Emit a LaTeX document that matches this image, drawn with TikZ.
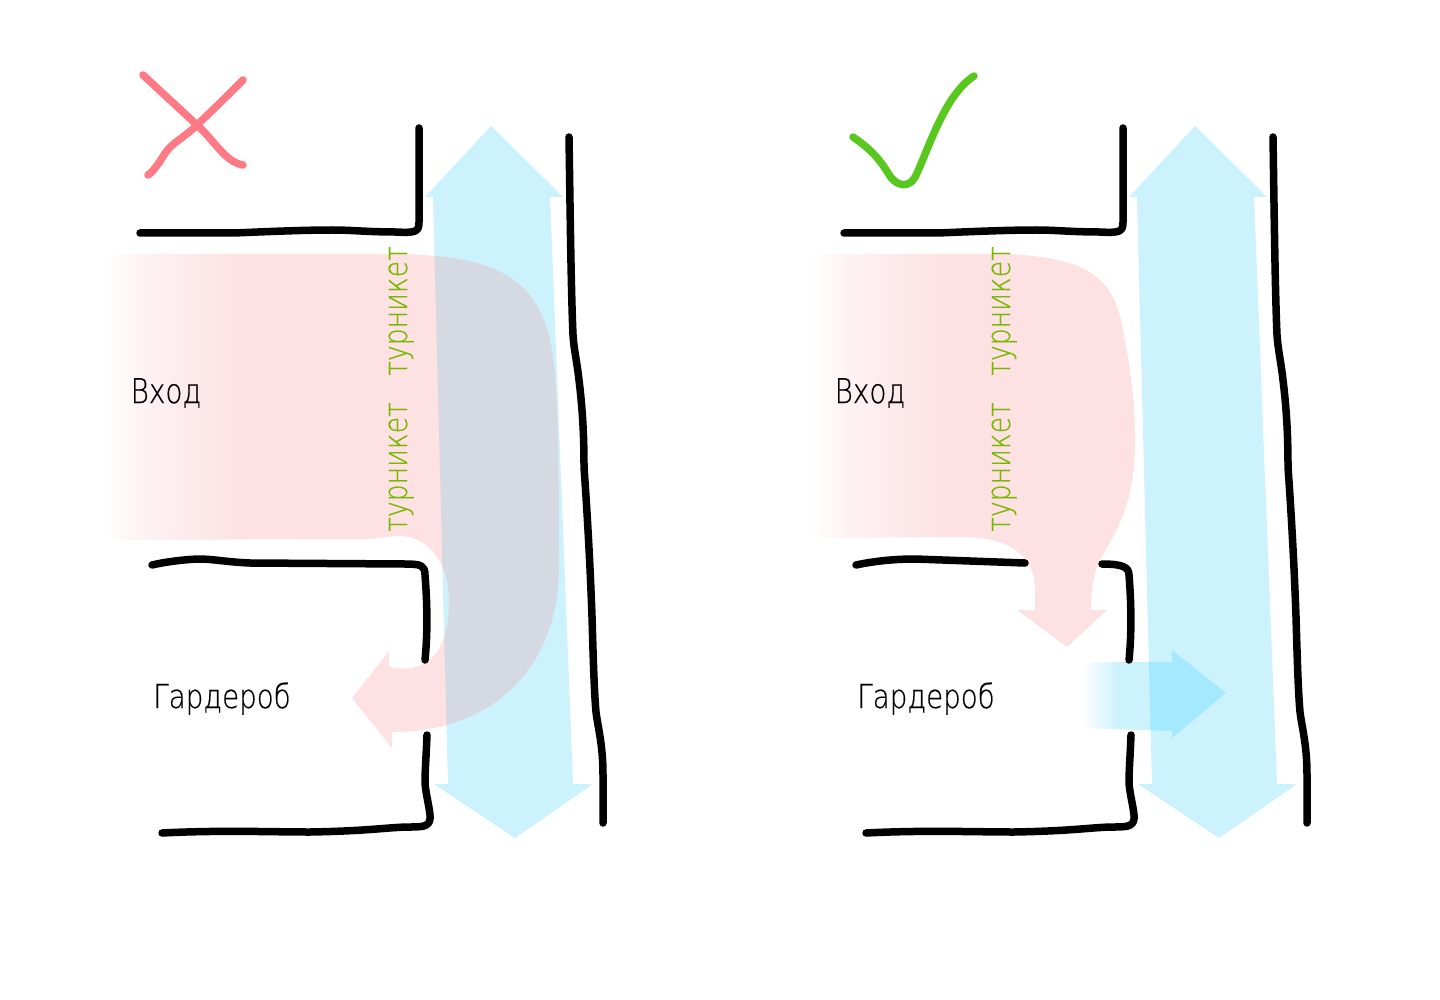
\documentclass[tikz,border=0pt]{standalone}
\usepackage{fontspec}
\usepackage{graphicx}
\setmainfont{DejaVu Sans ExtraLight}
\newfontfamily\roomfont[FakeBold=0.5]{DejaVu Sans ExtraLight}
\newfontfamily\turnfont[FakeBold=0.3]{DejaVu Sans ExtraLight}
\definecolor{pinkc}{RGB}{253,225,227}
\definecolor{pinkm}{RGB}{254,243,244}
\definecolor{bluec}{RGB}{204,242,254}
\definecolor{greyc}{RGB}{212,217,226}
\definecolor{deepblue}{RGB}{165,233,255}
\definecolor{crossc}{RGB}{255,122,133}
\definecolor{checkc}{RGB}{88,200,30}
\definecolor{labelg}{RGB}{120,185,0}
\tikzset{
  wall/.style={draw=black,line width=7.5pt,line cap=round,line join=round},
  mark stroke/.style={line width=7.5pt,line cap=round,line join=round},
  turn/.style={text=labelg,rotate=90,inner sep=0pt,anchor=base},
  room/.style={text=black,inner sep=0pt,anchor=base},
}
\newcommand{\turntext}{\fontsize{33}{33}\turnfont\scalebox{0.81}[1]{турникет}}
\def\bluearrow{(491,126) -- (563,197) -- (550,197) -- (573,784) -- (593,784) -- (515,838) -- (434,784) -- (448,784) -- (433,197) -- (425,197) -- cycle}
\def\pinkleft{(105,254) -- (400,254) .. controls (490,256) and (535,275) .. (550,340) .. controls (558,380) and (559,440) .. (559,567) .. controls (559,660) and (500,732) .. (392,732) -- (392,748) -- (352,698) -- (389,651) -- (389,667) .. controls (430,675) and (449,650) .. (449,600) .. controls (449,565) and (430,534) .. (395,536) .. controls (385,537) and (375,539) .. (360,539) -- (105,540) -- cycle}
\def\pinkright{(810,254) -- (1007,254) .. controls (1085,258) and (1112,275) .. (1122,325) .. controls (1130,365) and (1135,400) .. (1135,440) .. controls (1135,500) and (1120,525) .. (1100,560) .. controls (1093,575) and (1091,590) .. (1091,610) -- (1107,610) -- (1067,647) -- (1017,610) -- (1035,610) -- (1035,590) .. controls (1035,555) and (1010,537) .. (960,537) -- (810,538) -- cycle}
\def\smallarrow{(1083,662) -- (1172,662) -- (1172,650) -- (1226,693) -- (1172,738) -- (1172,731) -- (1083,728) -- cycle}
\begin{document}
\begin{tikzpicture}[x=1pt,y=-1pt]
\useasboundingbox (0,0) rectangle (1440,1000);
\fill[white] (0,0) rectangle (1440,1000);
% left panel
\fill[bluec] \bluearrow;
\begin{scope}
  \clip \pinkleft;
  \fill[pinkc] (240,250) rectangle (600,760);
  \shade[left color=white,right color=pinkm] (105,250) rectangle (140.5,545);
  \shade[left color=pinkm,right color=pinkc] (140,250) rectangle (240.5,545);
  \fill[greyc] \bluearrow;
\end{scope}
% right panel
\begin{scope}[xshift=704pt]
  \fill[bluec] \bluearrow;
\end{scope}
\begin{scope}
  \clip \pinkright;
  \fill[pinkc] (945,250) rectangle (1200,660);
  \shade[left color=white,right color=pinkm] (810,250) rectangle (845.5,545);
  \shade[left color=pinkm,right color=pinkc] (845,250) rectangle (945.5,545);
\end{scope}
\begin{scope}
  \clip \smallarrow;
  \fill[bluec] (1118,640) rectangle (1240,745);
  \shade[left color=white,right color=bluec] (1083,640) rectangle (1118.5,745);
  \begin{scope}[xshift=704pt]
    \fill[deepblue] \bluearrow;
  \end{scope}
\end{scope}
% marks
\draw[crossc,mark stroke] (143,75) -- (197,125) .. controls (215,141) and (225,162) .. (243,165);
\draw[crossc,mark stroke] (243,80) .. controls (225,98) and (215,108) .. (197,125) .. controls (185,137) and (172,143) .. (166,152) .. controls (160,161) and (155,170) .. (148,175);
\draw[checkc,mark stroke] (853,137) .. controls (872,150) and (880,160) .. (888,173) .. controls (895,186) and (910,191) .. (917,173) .. controls (930,145) and (945,95) .. (974,76);
% walls, both panels
\foreach \dx in {0,704}{
  \begin{scope}[xshift=\dx pt]
    \draw[wall] (140,233) -- (233,233) .. controls (260,232) and (300,230) .. (333,230) .. controls (350,230) and (370,232) .. (395,232) .. controls (416,233) and (419,232) .. (419,222) -- (419,128);
    \draw[wall] (569,137) .. controls (570,200) and (571,290) .. (573,335) .. controls (574,350) and (577,362) .. (579,380) .. controls (582,405) and (584,430) .. (584,467) .. controls (587,510) and (590,560) .. (592,617) .. controls (593,650) and (594,690) .. (596,712) .. controls (598,728) and (603,745) .. (603,775) -- (603,823);
    \draw[wall] (427,735) .. controls (426,760) and (425,770) .. (425,783) .. controls (426,795) and (429,805) .. (430,815) .. controls (431,826) and (425,827) .. (410,827) .. controls (390,827) and (370,831) .. (310,832) .. controls (270,832) and (220,830) .. (162,833);
  \end{scope}
}
\draw[wall] (152,565) .. controls (165,562) and (180,560) .. (197,559) .. controls (215,559) and (225,562) .. (250,563) -- (405,564) .. controls (422,564) and (425,566) .. (425,575) .. controls (427,600) and (428,630) .. (425,660);
\draw[wall] (856,565) .. controls (870,562) and (890,559) .. (915,559) -- (1025,563);
\draw[wall] (1102,564) .. controls (1122,564) and (1129,567) .. (1129,575) .. controls (1131,600) and (1132,630) .. (1129,660);
% labels
\node[room] (entryL) at (166,403) {\fontsize{34}{34}\roomfont\scalebox{0.82}[1]{Вход}};
\node[room] (entryR) at (870,403) {\fontsize{34}{34}\roomfont\scalebox{0.82}[1]{Вход}};
\node[room] (wardL) at (222,708) {\fontsize{33}{33}\roomfont\scalebox{0.84}[1]{Гардероб}};
\node[room] (wardR) at (926,708) {\fontsize{33}{33}\roomfont\scalebox{0.84}[1]{Гардероб}};
\node[turn] (t1) at (407,311) {\turntext};
\node[turn] (t2) at (407,467) {\turntext};
\node[turn] (t3) at (1010,311) {\turntext};
\node[turn] (t4) at (1010,467) {\turntext};
\end{tikzpicture}
\end{document}
